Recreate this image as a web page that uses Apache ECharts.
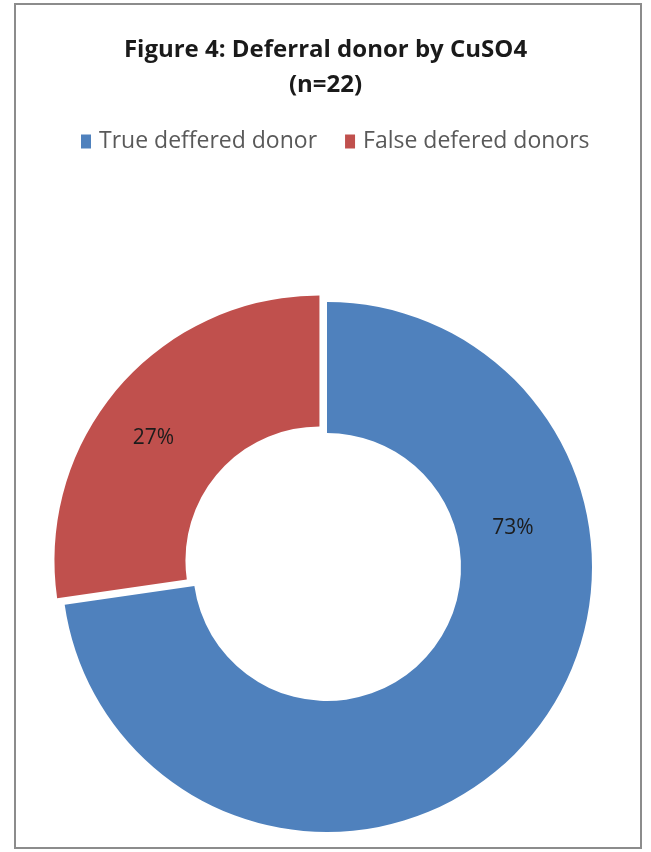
<!DOCTYPE html>
<html>
<head>
<meta charset="utf-8">
<style>
  html, body { margin: 0; padding: 0; background: #ffffff; }
  #chart { width: 651px; height: 852px; }
</style>
<script src="https://cdn.jsdelivr.net/npm/echarts@6/dist/echarts.min.js"></script>
</head>
<body>
<div id="chart"></div>
<script>
// Deferred donors by CuSO4 screening (n = 22)
const categories = ['True deffered donor', 'False defered donors'];
const donorCounts = [16, 6];
const sliceColors = ['#4F81BD', '#C0504D'];

// small nudges that move each percent label to its place on the ring
const labelNudges = [[33, -172], [-13, 10]];

const chart = echarts.init(document.getElementById('chart'), null, { renderer: 'canvas' });

const seriesData = categories.map((name, i) => ({
  name: name,
  value: donorCounts[i],
  selected: i === 1,
  itemStyle: { color: sliceColors[i] }
}));

chart.setOption({
  animation: false,
  backgroundColor: '#ffffff',
  title: {
    text: 'Figure 4: Deferral donor by CuSO4\n(n=22)',
    left: 'center',
    top: 28,
    textStyle: {
      fontFamily: 'Open Sans',
      fontWeight: 'bold',
      fontSize: 24,
      lineHeight: 35,
      color: '#1a1a1a'
    }
  },
  legend: {
    top: 125,
    left: 76,
    itemWidth: 10,
    itemHeight: 14,
    itemGap: 28,
    icon: 'rect',
    selectedMode: false,
    textStyle: {
      fontFamily: 'Open Sans',
      fontSize: 23,
      color: '#595959',
      padding: [0, 0, 0, 3]
    },
    data: categories
  },
  graphic: [{
    type: 'rect',
    shape: { x: 15, y: 4, width: 626, height: 844 },
    style: { fill: 'none', stroke: '#8c8c8c', lineWidth: 2 },
    silent: true,
    z: 100
  }],
  series: [{
    type: 'pie',
    center: [327, 567],
    radius: [134, 265],
    startAngle: 90,
    clockwise: true,
    selectedMode: 'single',
    selectedOffset: 10,
    percentPrecision: 0,
    avoidLabelOverlap: false,
    emphasis: { disabled: true },
    itemStyle: { borderWidth: 0 },
    label: {
      show: true,
      position: 'inside',
      formatter: '{d}%',
      fontFamily: 'Open Sans',
      fontSize: 21,
      color: '#1c1c1c'
    },
    labelLine: { show: false },
    labelLayout: function (params) {
      const n = labelNudges[params.dataIndex];
      return { dx: n[0], dy: n[1] };
    },
    data: seriesData
  }]
});
</script>
</body>
</html>
